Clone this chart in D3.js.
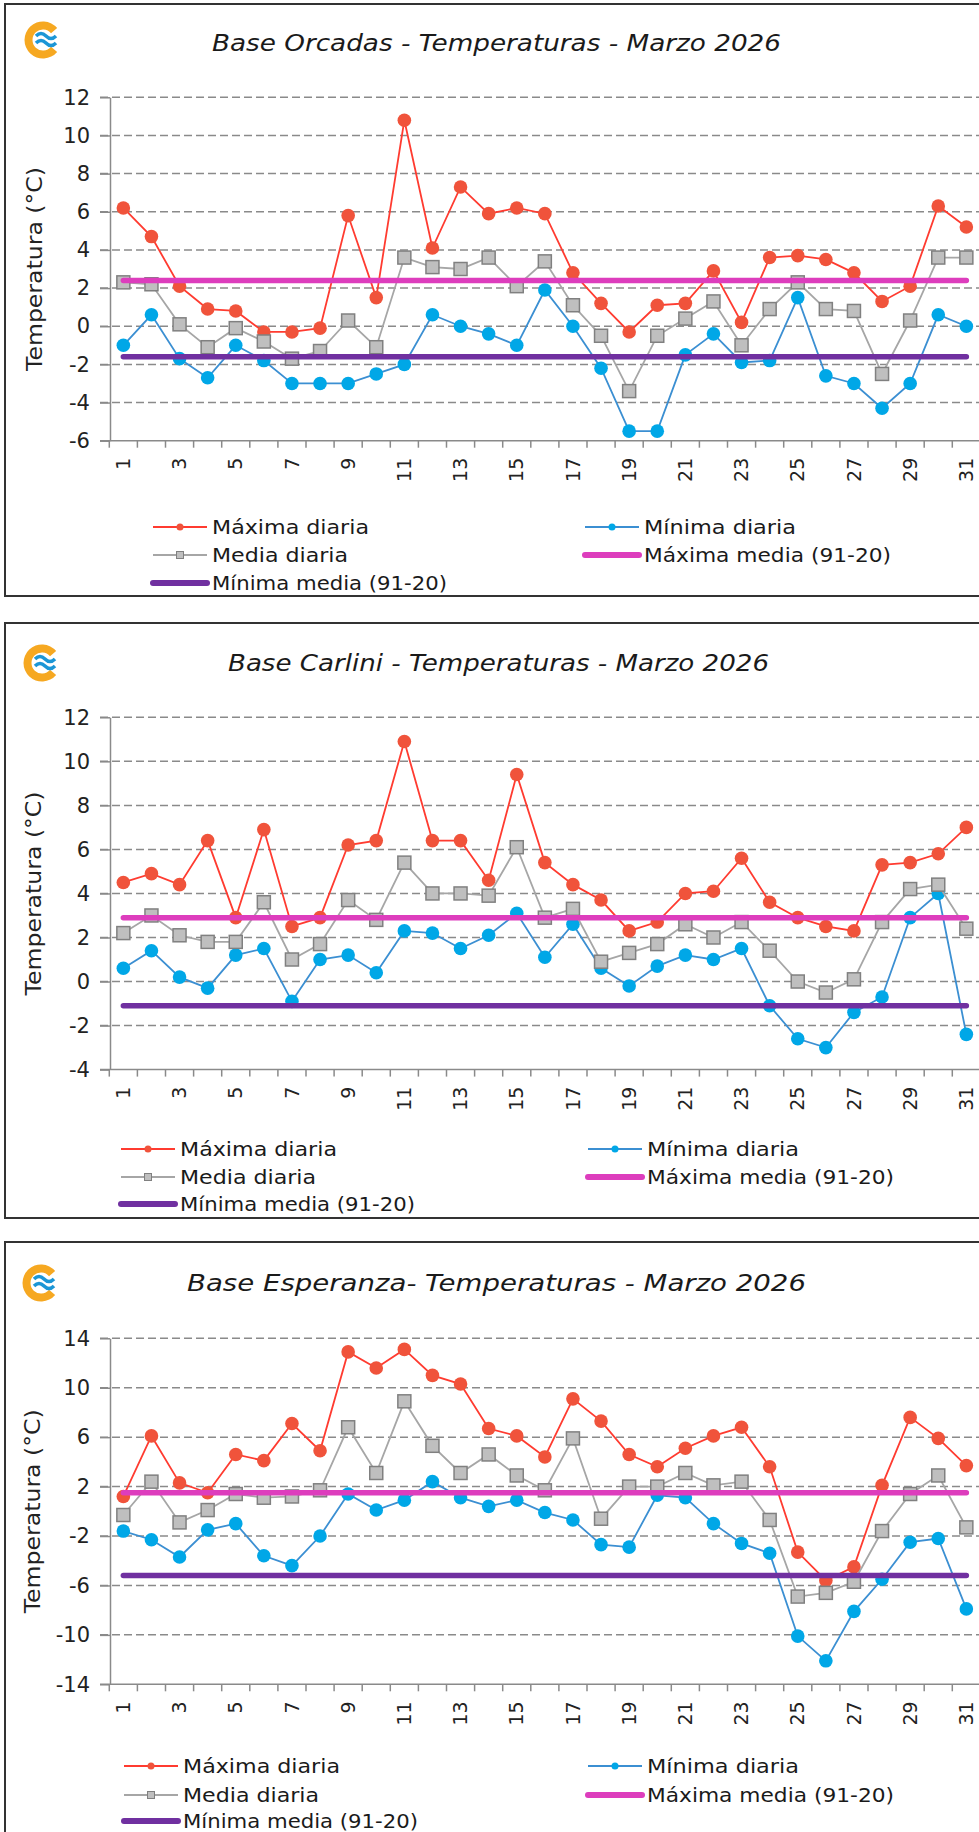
<!DOCTYPE html>
<html>
<head>
<meta charset="utf-8">
<script src="https://cdn.jsdelivr.net/npm/d3@7"></script>
<style>
body { margin: 0; background: #fff; }
svg { display: block; font-family: "DejaVu Sans", sans-serif; }
</style>
</head>
<body>
<div id="chart-area"></div>
<script>
const days = [1, 2, 3, 4, 5, 6, 7, 8, 9, 10, 11, 12, 13, 14, 15, 16, 17, 18, 19, 20, 21, 22, 23, 24, 25, 26, 27, 28, 29, 30, 31];
const dayLabels = [1, 3, 5, 7, 9, 11, 13, 15, 17, 19, 21, 23, 25, 27, 29, 31];
const legendNames = ["Máxima diaria", "Mínima diaria", "Media diaria", "Máxima media (91-20)", "Mínima media (91-20)"];

const orcadasTitle = ["Base Orcadas", " - Temperaturas - ", "Marzo 2026"];
const orcadasMax = [6.2, 4.7, 2.1, 0.9, 0.8, -0.3, -0.3, -0.1, 5.8, 1.5, 10.8, 4.1, 7.3, 5.9, 6.2, 5.9, 2.8, 1.2, -0.3, 1.1, 1.2, 2.9, 0.2, 3.6, 3.7, 3.5, 2.8, 1.3, 2.1, 6.3, 5.2];
const orcadasMin = [-1.0, 0.6, -1.7, -2.7, -1.0, -1.8, -3.0, -3.0, -3.0, -2.5, -2.0, 0.6, 0.0, -0.4, -1.0, 1.9, 0.0, -2.2, -5.5, -5.5, -1.5, -0.4, -1.9, -1.8, 1.5, -2.6, -3.0, -4.3, -3.0, 0.6, 0.0];
const orcadasMean = [2.3, 2.2, 0.1, -1.1, -0.1, -0.8, -1.7, -1.3, 0.3, -1.1, 3.6, 3.1, 3.0, 3.6, 2.1, 3.4, 1.1, -0.5, -3.4, -0.5, 0.4, 1.3, -1.0, 0.9, 2.3, 0.9, 0.8, -2.5, 0.3, 3.6, 3.6];
const orcadasNormals = [2.4, -1.6];
const orcadasTicks = [-6, -4, -2, 0, 2, 4, 6, 8, 10, 12];

const carliniTitle = ["Base Carlini", " - Temperaturas - ", "Marzo 2026"];
const carliniMax = [4.5, 4.9, 4.4, 6.4, 2.9, 6.9, 2.5, 2.9, 6.2, 6.4, 10.9, 6.4, 6.4, 4.6, 9.4, 5.4, 4.4, 3.7, 2.3, 2.7, 4.0, 4.1, 5.6, 3.6, 2.9, 2.5, 2.3, 5.3, 5.4, 5.8, 7.0];
const carliniMin = [0.6, 1.4, 0.2, -0.3, 1.2, 1.5, -0.9, 1.0, 1.2, 0.4, 2.3, 2.2, 1.5, 2.1, 3.1, 1.1, 2.6, 0.6, -0.2, 0.7, 1.2, 1.0, 1.5, -1.1, -2.6, -3.0, -1.4, -0.7, 2.9, 4.0, -2.4];
const carliniMean = [2.2, 3.0, 2.1, 1.8, 1.8, 3.6, 1.0, 1.7, 3.7, 2.8, 5.4, 4.0, 4.0, 3.9, 6.1, 2.9, 3.3, 0.9, 1.3, 1.7, 2.6, 2.0, 2.7, 1.4, 0.0, -0.5, 0.1, 2.7, 4.2, 4.4, 2.4];
const carliniNormals = [2.9, -1.1];
const carliniTicks = [-4, -2, 0, 2, 4, 6, 8, 10, 12];

const esperanzaTitle = ["Base Esperanza", "- Temperaturas  - ", "Marzo 2026"];
const esperanzaMax = [1.2, 6.1, 2.3, 1.5, 4.6, 4.1, 7.1, 4.9, 12.9, 11.6, 13.1, 11.0, 10.3, 6.7, 6.1, 4.4, 9.1, 7.3, 4.6, 3.6, 5.1, 6.1, 6.8, 3.6, -3.3, -5.6, -4.5, 2.1, 7.6, 5.9, 3.7];
const esperanzaMin = [-1.6, -2.3, -3.7, -1.5, -1.0, -3.6, -4.4, -2.0, 1.4, 0.1, 0.9, 2.4, 1.1, 0.4, 0.9, -0.1, -0.7, -2.7, -2.9, 1.3, 1.1, -1.0, -2.6, -3.4, -10.1, -12.1, -8.1, -5.5, -2.5, -2.2, -7.9];
const esperanzaMean = [-0.3, 2.4, -0.9, 0.1, 1.4, 1.1, 1.2, 1.7, 6.8, 3.1, 8.9, 5.3, 3.1, 4.6, 2.9, 1.7, 5.9, -0.6, 2.0, 2.0, 3.1, 2.1, 2.4, -0.7, -6.9, -6.6, -5.7, -1.6, 1.4, 2.9, -1.3];
const esperanzaNormals = [1.5, -5.2];
const esperanzaTicks = [-14, -10, -6, -2, 2, 6, 10, 14];

const width = 979;
const height = 1832;

const colors = {
    maxLine: "#ff3b30", maxDot: "#f0533b",
    minLine: "#3b8fd2", minDot: "#00a7e7",
    meanLine: "#a6a6a6", meanFill: "#bfbfbf", meanStroke: "#808080",
    normMax: "#dd3dbd", normMin: "#7030a0"
};

// approximate widths of the legend labels in the original
const legendWidths = [157, 152, 136, 247, 235];

const panels = [
    { title: orcadasTitle, max: orcadasMax, min: orcadasMin, mean: orcadasMean, normals: orcadasNormals, ticks: orcadasTicks,
      top: 4, bottom: 596, titleY: 51, titleX: [212, 781], logo: [43, 40], yTitleX: 35,
      plotTop: 97.3, plotBottom: 440.7, legendX: [153, 585], legendY: [527, 555, 583] },
    { title: carliniTitle, max: carliniMax, min: carliniMin, mean: carliniMean, normals: carliniNormals, ticks: carliniTicks,
      top: 623, bottom: 1218, titleY: 671, titleX: [228, 769], logo: [42, 663], yTitleX: 34,
      plotTop: 717.3, plotBottom: 1069.6, legendX: [121, 588], legendY: [1149, 1177, 1204] },
    { title: esperanzaTitle, max: esperanzaMax, min: esperanzaMin, mean: esperanzaMean, normals: esperanzaNormals, ticks: esperanzaTicks,
      top: 1242, bottom: 1860, titleY: 1291, titleX: [187, 806], logo: [41, 1283], yTitleX: 33,
      plotTop: 1338.3, plotBottom: 1684.3, legendX: [124, 588], legendY: [1766, 1795, 1821] }
];

const svg = d3.select("#chart-area")
    .append("svg")
    .attr("width", width)
    .attr("height", height);

const x = d3.scaleBand()
    .domain(days)
    .range([109.3, 109.3 + 31 * 28.1]);

const cx = d => x(d) + x.bandwidth() / 2;

function drawLogo(g, pos) {
    var ring = d3.arc()
        .innerRadius(10.5)
        .outerRadius(18.5)
        .startAngle(Math.PI / 2 + 0.7)
        .endAngle(Math.PI * 2.5 - 0.7);

    g.append("path")
        .attr("transform", "translate(" + pos[0] + "," + pos[1] + ")")
        .attr("d", ring())
        .attr("fill", "#f6a821");

    [-4, 3].forEach(dy => {
        g.append("path")
            .attr("d", "M" + (pos[0] - 7) + "," + (pos[1] + dy) +
                " q5,-5 10,0 t10,0")
            .attr("fill", "none")
            .attr("stroke", "#1c96d6")
            .attr("stroke-width", 3.5);
    });
}

function drawPanel(p) {
    var g = svg.append("g");

    g.append("rect")
        .attr("x", 5)
        .attr("y", p.top)
        .attr("width", 1000)
        .attr("height", p.bottom - p.top)
        .attr("fill", "#fff")
        .attr("stroke", "#333")
        .attr("stroke-width", 2);

    drawLogo(g, p.logo);

    var title = g.append("text")
        .attr("x", p.titleX[0])
        .attr("y", p.titleY)
        .attr("textLength", p.titleX[1] - p.titleX[0])
        .attr("lengthAdjust", "spacingAndGlyphs")
        .attr("font-size", 23)
        .attr("font-style", "italic")
        .attr("fill", "#1a1a1a");
    p.title.forEach(t => title.append("tspan").text(t));

    var y = d3.scaleLinear()
        .domain(d3.extent(p.ticks))
        .range([p.plotBottom, p.plotTop]);

    // dashed grid
    g.selectAll(".grid")
        .data(p.ticks.slice(1))
        .join("line")
        .attr("x1", 100)
        .attr("x2", 990)
        .attr("y1", d => y(d))
        .attr("y2", d => y(d))
        .attr("stroke", "#8a8a8a")
        .attr("stroke-width", 1.5)
        .attr("stroke-dasharray", "8,4");

    var yAxis = g.append("g")
        .attr("transform", "translate(110,0)")
        .call(d3.axisLeft(y).tickValues(p.ticks).tickSize(10).tickSizeOuter(0).tickPadding(10).tickFormat(d => d));
    yAxis.selectAll("line, path").attr("stroke", "#8a8a8a").attr("stroke-width", 1.5);
    yAxis.selectAll("text")
        .attr("font-size", 21)
        .attr("font-family", "DejaVu Sans, sans-serif")
        .attr("fill", "#222");

    g.append("text")
        .attr("transform", "translate(" + p.yTitleX + "," + ((p.plotTop + p.plotBottom) / 2) + ") rotate(-90)")
        .attr("text-anchor", "middle")
        .attr("dy", "0.35em")
        .attr("font-size", 21)
        .attr("textLength", 204)
        .attr("lengthAdjust", "spacingAndGlyphs")
        .attr("fill", "#222")
        .text("Temperatura (°C)");

    // x axis
    g.append("line")
        .attr("x1", 100)
        .attr("x2", 990)
        .attr("y1", p.plotBottom)
        .attr("y2", p.plotBottom)
        .attr("stroke", "#8a8a8a")
        .attr("stroke-width", 1.5);

    g.selectAll(".xtick")
        .data(days.concat([32]))
        .join("line")
        .attr("x1", d => d <= 31 ? x(d) : x(31) + x.bandwidth())
        .attr("x2", d => d <= 31 ? x(d) : x(31) + x.bandwidth())
        .attr("y1", p.plotBottom)
        .attr("y2", p.plotBottom + 7)
        .attr("stroke", "#8a8a8a")
        .attr("stroke-width", 1.5);

    g.selectAll(".xlabel")
        .data(dayLabels)
        .join("text")
        .attr("transform", d => "translate(" + cx(d) + "," + (p.plotBottom + 17) + ") rotate(-90)")
        .attr("text-anchor", "end")
        .attr("dy", "0.35em")
        .attr("font-size", 19)
        .attr("fill", "#222")
        .text(d => d);

    var series = [
        { values: p.max, line: colors.maxLine, dot: colors.maxDot, shape: "circle" },
        { values: p.min, line: colors.minLine, dot: colors.minDot, shape: "circle" },
        { values: p.mean, line: colors.meanLine, dot: colors.meanFill, shape: "square" }
    ];

    var line = d3.line()
        .x((d, i) => cx(days[i]))
        .y(d => y(d));

    series.forEach(s => {
        var sg = g.append("g");
        sg.append("path")
            .attr("d", line(s.values))
            .attr("fill", "none")
            .attr("stroke", s.line)
            .attr("stroke-width", 1.8);

        if (s.shape == "circle") {
            sg.selectAll("circle")
                .data(s.values)
                .join("circle")
                .attr("cx", (d, i) => cx(days[i]))
                .attr("cy", d => y(d))
                .attr("r", 6.8)
                .attr("fill", s.dot);
        } else {
            sg.selectAll("rect")
                .data(s.values)
                .join("rect")
                .attr("x", (d, i) => cx(days[i]) - 6.5)
                .attr("y", d => y(d) - 6.5)
                .attr("width", 13)
                .attr("height", 13)
                .attr("fill", s.dot)
                .attr("stroke", colors.meanStroke)
                .attr("stroke-width", 1.5);
        }
    });

    // 1991-2020 normals
    [colors.normMax, colors.normMin].forEach((c, k) => {
        g.append("line")
            .attr("x1", cx(days[0]))
            .attr("x2", cx(days[days.length - 1]))
            .attr("y1", y(p.normals[k]))
            .attr("y2", y(p.normals[k]))
            .attr("stroke", c)
            .attr("stroke-width", 5.5)
            .attr("stroke-linecap", "round");
    });

    // legend
    var slots = [[0, 0], [1, 0], [0, 1], [1, 1], [0, 2]];
    var styles = [
        { c: colors.maxLine, m: "circle", mc: colors.maxDot, w: 2 },
        { c: colors.minLine, m: "circle", mc: colors.minDot, w: 2 },
        { c: colors.meanLine, m: "square", mc: colors.meanFill, w: 2 },
        { c: colors.normMax, m: null, w: 6 },
        { c: colors.normMin, m: null, w: 6 }
    ];

    legendNames.forEach((name, i) => {
        var lx = p.legendX[slots[i][0]];
        var ly = p.legendY[slots[i][1]];
        var st = styles[i];
        g.append("line")
            .attr("x1", lx)
            .attr("x2", lx + 54)
            .attr("y1", ly)
            .attr("y2", ly)
            .attr("stroke", st.c)
            .attr("stroke-width", st.w)
            .attr("stroke-linecap", st.m ? "butt" : "round");
        if (st.m == "circle") {
            g.append("circle")
                .attr("cx", lx + 27)
                .attr("cy", ly)
                .attr("r", 3.5)
                .attr("fill", st.mc);
        } else if (st.m == "square") {
            g.append("rect")
                .attr("x", lx + 23.5)
                .attr("y", ly - 3.5)
                .attr("width", 7)
                .attr("height", 7)
                .attr("fill", st.mc)
                .attr("stroke", colors.meanStroke);
        }
        g.append("text")
            .attr("x", lx + 59)
            .attr("y", ly)
            .attr("dy", "0.35em")
            .attr("font-size", 20)
            .attr("textLength", legendWidths[i])
            .attr("lengthAdjust", "spacingAndGlyphs")
            .attr("fill", "#1a1a1a")
            .text(name);
    });
}

panels.forEach(drawPanel);
</script>
</body>
</html>
